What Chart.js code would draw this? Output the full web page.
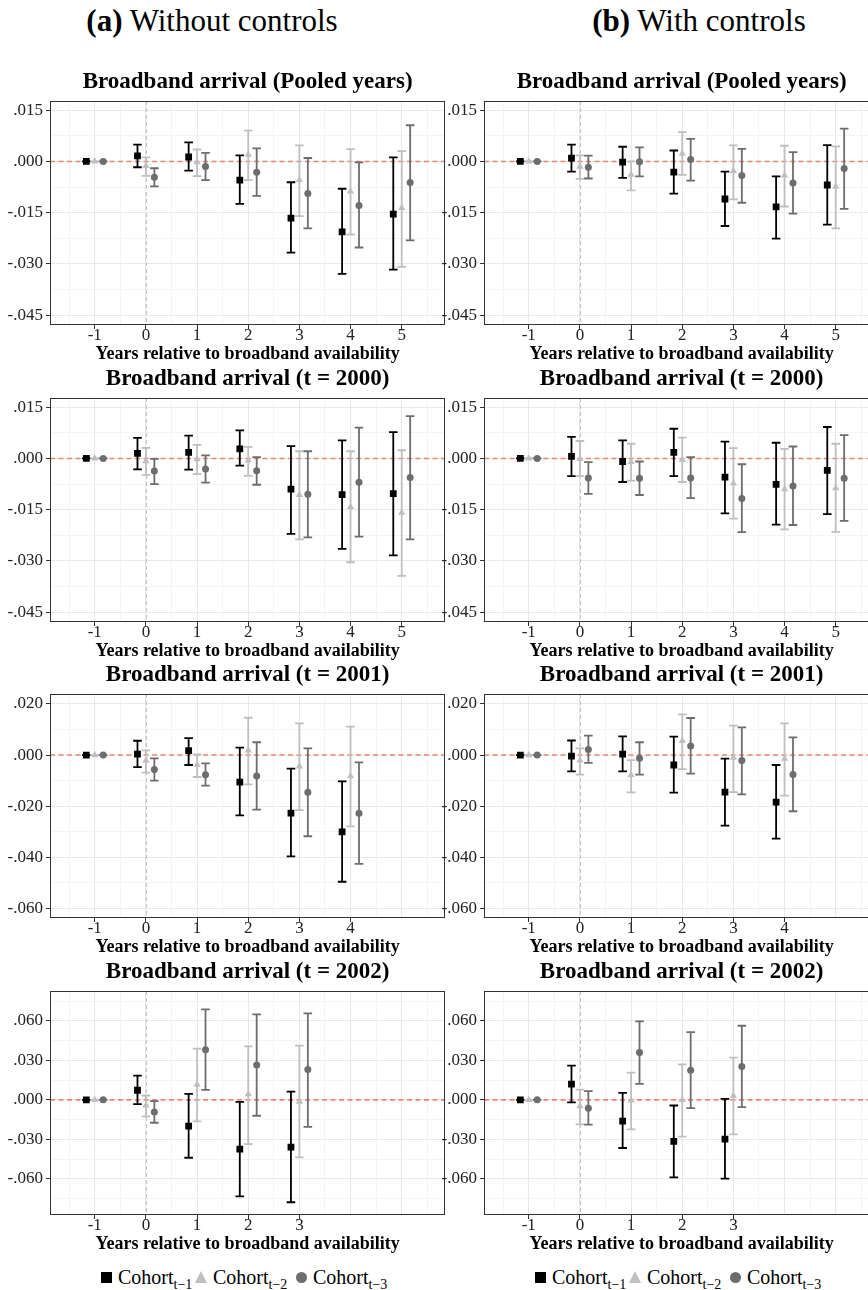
<!DOCTYPE html>
<html>
<head>
<meta charset="utf-8">
<script src="https://cdn.jsdelivr.net/npm/chart.js@4.4.0/dist/chart.umd.min.js"></script>
<style>
  body { margin: 0; width: 868px; height: 1290px; overflow: hidden; background: #fff; position: relative;
         font-family: 'Liberation Serif', 'Times New Roman', serif; color: #000; }
  .panel { position: absolute; }
  .hdr { position: absolute; top: 2px; width: 420px; text-align: center; font-size: 31px; line-height: 38px; }
  .leg { position: absolute; top: 1265px; height: 24px; font-size: 20px; line-height: 24px; }
  .leg span.txt { position: absolute; top: 0; white-space: nowrap; }
  .leg sub { font-size: 14px; vertical-align: -5px; line-height: 0; }
  .mk { position: absolute; }
</style>
</head>
<body>
<div class="hdr" style="left:2px"><b>(a)</b> Without controls</div>
<div class="hdr" style="left:489px"><b>(b)</b> With controls</div>

<script>
// Eventos relativos a la llegada de banda ancha
const YEARS_FULL = [-1, 0, 1, 2, 3, 4, 5];
const YEARS_2001 = [-1, 0, 1, 2, 3, 4];
const YEARS_2002 = [-1, 0, 1, 2, 3];
const COHORTS = ['t\u22121', 't\u22122', 't\u22123'];

// cada punto: [estimación, IC inferior, IC superior]
const POOLED_A_T1 = [[0,0,0],[0.0016,-0.0017,0.0049],[0.0013,-0.0027,0.0056],[-0.0055,-0.0124,0.0018],[-0.0166,-0.0267,-0.0061],[-0.0206,-0.0329,-0.0080],[-0.0154,-0.0317,0.0012]];
const POOLED_A_T2 = [[0,0,0],[-0.0013,-0.0042,0.0012],[-0.0002,-0.0043,0.0035],[0.0020,-0.0055,0.0090],[-0.0054,-0.0160,0.0047],[-0.0088,-0.0214,0.0036],[-0.0136,-0.0309,0.0030]];
const POOLED_A_T3 = [[0,0,0],[-0.0046,-0.0073,-0.0020],[-0.0015,-0.0055,0.0025],[-0.0032,-0.0101,0.0038],[-0.0094,-0.0196,0.0010],[-0.0129,-0.0252,-0.0003],[-0.0062,-0.0231,0.0106]];

const POOLED_B_T1 = [[0,0,0],[0.0010,-0.0030,0.0049],[-0.0002,-0.0048,0.0043],[-0.0031,-0.0094,0.0032],[-0.0110,-0.0189,-0.0030],[-0.0133,-0.0226,-0.0044],[-0.0069,-0.0185,0.0048]];
const POOLED_B_T2 = [[0,0,0],[-0.0015,-0.0051,0.0018],[-0.0039,-0.0085,0.0000],[0.0023,-0.0039,0.0086],[-0.0028,-0.0111,0.0047],[-0.0041,-0.0132,0.0046],[-0.0074,-0.0196,0.0044]];
const POOLED_B_T3 = [[0,0,0],[-0.0017,-0.0050,0.0017],[-0.0001,-0.0044,0.0041],[0.0006,-0.0056,0.0066],[-0.0041,-0.0121,0.0037],[-0.0063,-0.0153,0.0027],[-0.0021,-0.0139,0.0096]];

const Y2000_A_T1 = [[0,0,0],[0.0015,-0.0032,0.0060],[0.0018,-0.0033,0.0067],[0.0028,-0.0021,0.0082],[-0.0090,-0.0221,0.0036],[-0.0106,-0.0265,0.0053],[-0.0103,-0.0284,0.0077]];
const Y2000_A_T2 = [[0,0,0],[-0.0008,-0.0048,0.0031],[-0.0002,-0.0046,0.0040],[-0.0006,-0.0051,0.0034],[-0.0107,-0.0237,0.0021],[-0.0142,-0.0304,0.0021],[-0.0159,-0.0344,0.0024]];
const Y2000_A_T3 = [[0,0,0],[-0.0037,-0.0075,-0.0001],[-0.0031,-0.0071,0.0009],[-0.0036,-0.0077,0.0004],[-0.0105,-0.0231,0.0021],[-0.0070,-0.0229,0.0090],[-0.0056,-0.0237,0.0124]];

const Y2000_B_T1 = [[0,0,0],[0.0006,-0.0052,0.0063],[-0.0009,-0.0069,0.0053],[0.0018,-0.0052,0.0087],[-0.0055,-0.0161,0.0049],[-0.0076,-0.0194,0.0046],[-0.0035,-0.0163,0.0092]];
const Y2000_B_T2 = [[0,0,0],[-0.0001,-0.0052,0.0051],[-0.0010,-0.0065,0.0043],[-0.0004,-0.0069,0.0061],[-0.0073,-0.0176,0.0030],[-0.0090,-0.0208,0.0028],[-0.0087,-0.0215,0.0043]];
const Y2000_B_T3 = [[0,0,0],[-0.0057,-0.0104,-0.0011],[-0.0058,-0.0107,-0.0009],[-0.0057,-0.0116,0.0004],[-0.0117,-0.0216,-0.0017],[-0.0081,-0.0195,0.0035],[-0.0058,-0.0183,0.0068]];

const Y2001_A_T1 = [[0,0,0],[0.0004,-0.0047,0.0056],[0.0017,-0.0039,0.0066],[-0.0106,-0.0236,0.0029],[-0.0227,-0.0397,-0.0053],[-0.0301,-0.0496,-0.0103]];
const Y2001_A_T2 = [[0,0,0],[-0.0022,-0.0069,0.0018],[-0.0039,-0.0086,0.0003],[0.0018,-0.0115,0.0146],[-0.0044,-0.0216,0.0124],[-0.0083,-0.0279,0.0111]];
const Y2001_A_T3 = [[0,0,0],[-0.0057,-0.0100,-0.0013],[-0.0077,-0.0120,-0.0033],[-0.0082,-0.0214,0.0050],[-0.0146,-0.0318,0.0026],[-0.0228,-0.0426,-0.0029]];

const Y2001_B_T1 = [[0,0,0],[-0.0004,-0.0064,0.0057],[0.0004,-0.0064,0.0073],[-0.0039,-0.0147,0.0072],[-0.0145,-0.0276,-0.0014],[-0.0184,-0.0327,-0.0039]];
const Y2001_B_T2 = [[0,0,0],[-0.0021,-0.0077,0.0026],[-0.0078,-0.0146,-0.0020],[0.0055,-0.0055,0.0159],[-0.0010,-0.0145,0.0115],[-0.0014,-0.0159,0.0124]];
const Y2001_B_T3 = [[0,0,0],[0.0022,-0.0031,0.0076],[-0.0013,-0.0077,0.0050],[0.0035,-0.0073,0.0145],[-0.0021,-0.0154,0.0108],[-0.0076,-0.0220,0.0069]];

const Y2002_A_T1 = [[0,0,0],[0.0073,-0.0033,0.0184],[-0.0200,-0.0440,0.0045],[-0.0374,-0.0733,-0.0015],[-0.0359,-0.0778,0.0063]];
const Y2002_A_T2 = [[0,0,0],[-0.0043,-0.0126,0.0033],[0.0116,-0.0164,0.0389],[0.0043,-0.0336,0.0407],[-0.0013,-0.0437,0.0412]];
const Y2002_A_T3 = [[0,0,0],[-0.0093,-0.0174,-0.0010],[0.0381,0.0076,0.0687],[0.0265,-0.0121,0.0649],[0.0230,-0.0205,0.0657]];

const Y2002_B_T1 = [[0,0,0],[0.0119,-0.0020,0.0260],[-0.0162,-0.0366,0.0053],[-0.0316,-0.0589,-0.0043],[-0.0298,-0.0599,0.0008]];
const Y2002_B_T2 = [[0,0,0],[-0.0048,-0.0187,0.0078],[-0.0005,-0.0225,0.0207],[0.0000,-0.0280,0.0270],[0.0030,-0.0263,0.0321]];
const Y2002_B_T3 = [[0,0,0],[-0.0063,-0.0189,0.0066],[0.0359,0.0121,0.0596],[0.0225,-0.0063,0.0515],[0.0253,-0.0056,0.0563]];

// ejes
const Y_TICKS_015 = [-0.045, -0.030, -0.015, 0, 0.015];
const Y_TICKS_020 = [-0.060, -0.040, -0.020, 0, 0.020];
const Y_TICKS_030 = [-0.060, -0.030, 0, 0.030, 0.060];
const Y_RANGE_015 = [-0.0479, 0.0177];
const Y_RANGE_020 = [-0.0638, 0.0239];
const Y_RANGE_030 = [-0.0875, 0.0827];
const X_RANGE = [-1.875, 5.85];

// estilo
const COLORS = ['#000000', '#bfbfbf', '#6d6d6d'];
const SHAPES = ['rect', 'triangle', 'circle'];
const RADII = [4.8, 4.2, 3.5];
const DODGE = [-0.165, 0, 0.165];
const CAP = 4.3;
const FONT = "'Liberation Serif', 'Times New Roman', serif";
const COL_LEFT = [0, 434];
const ROW_TOPS = [101, 398, 694, 991];
const PLOT_H = 224;

const PANELS = [
  { row: 0, col: 0, title: 'Broadband arrival (Pooled years)', years: YEARS_FULL, series: [POOLED_A_T1, POOLED_A_T2, POOLED_A_T3], ticks: Y_TICKS_015, range: Y_RANGE_015 },
  { row: 0, col: 1, title: 'Broadband arrival (Pooled years)', years: YEARS_FULL, series: [POOLED_B_T1, POOLED_B_T2, POOLED_B_T3], ticks: Y_TICKS_015, range: Y_RANGE_015 },
  { row: 1, col: 0, title: 'Broadband arrival (t = 2000)', years: YEARS_FULL, series: [Y2000_A_T1, Y2000_A_T2, Y2000_A_T3], ticks: Y_TICKS_015, range: Y_RANGE_015 },
  { row: 1, col: 1, title: 'Broadband arrival (t = 2000)', years: YEARS_FULL, series: [Y2000_B_T1, Y2000_B_T2, Y2000_B_T3], ticks: Y_TICKS_015, range: Y_RANGE_015 },
  { row: 2, col: 0, title: 'Broadband arrival (t = 2001)', years: YEARS_2001, series: [Y2001_A_T1, Y2001_A_T2, Y2001_A_T3], ticks: Y_TICKS_020, range: Y_RANGE_020 },
  { row: 2, col: 1, title: 'Broadband arrival (t = 2001)', years: YEARS_2001, series: [Y2001_B_T1, Y2001_B_T2, Y2001_B_T3], ticks: Y_TICKS_020, range: Y_RANGE_020 },
  { row: 3, col: 0, title: 'Broadband arrival (t = 2002)', years: YEARS_2002, series: [Y2002_A_T1, Y2002_A_T2, Y2002_A_T3], ticks: Y_TICKS_030, range: Y_RANGE_030 },
  { row: 3, col: 1, title: 'Broadband arrival (t = 2002)', years: YEARS_2002, series: [Y2002_B_T1, Y2002_B_T2, Y2002_B_T3], ticks: Y_TICKS_030, range: Y_RANGE_030 }
];

const round6 = v => Math.round(v * 1e6) / 1e6;
const isMultiple = (v, step) => Math.abs(v / step - Math.round(v / step)) < 1e-6;

function fmtY(v) {
  const s = Math.abs(v).toFixed(3).replace(/^0/, '');
  return (v < -1e-9 ? '-' : '') + s;
}

// ticks mayores + menores (mitades) dentro del rango
function yTickValues(major, range) {
  const step = major[1] - major[0];
  const out = [];
  for (let k = -2; k <= major.length * 2 + 2; k++) {
    const v = round6(major[0] + k * step / 2);
    if (v >= range[0] && v <= range[1]) out.push(v);
  }
  return out;
}

// Referencias, barras de error y borde del panel
const errorBars = {
  id: 'errorBars',
  beforeDatasetsDraw(chart) {
    const { ctx, chartArea: a, scales: { x, y } } = chart;
    ctx.save();
    const x0 = Math.round(x.getPixelForValue(0)) + 0.5;
    ctx.strokeStyle = '#c4c4c4'; ctx.lineWidth = 1.1; ctx.setLineDash([4, 3]);
    ctx.beginPath(); ctx.moveTo(x0, a.top); ctx.lineTo(x0, a.bottom); ctx.stroke();
    const y0 = y.getPixelForValue(0);
    ctx.strokeStyle = '#ef8471'; ctx.lineWidth = 1.6; ctx.setLineDash([5, 3.5]);
    ctx.beginPath(); ctx.moveTo(a.left, y0); ctx.lineTo(a.right, y0); ctx.stroke();
    ctx.setLineDash([]);
    ctx.lineWidth = 1.8;
    chart.data.datasets.forEach(ds => {
      ctx.strokeStyle = ds.backgroundColor;
      ds.data.forEach(p => {
        const px = x.getPixelForValue(p.x);
        const top = y.getPixelForValue(p.hi), bot = y.getPixelForValue(p.lo);
        ctx.beginPath();
        ctx.moveTo(px, top); ctx.lineTo(px, bot);
        ctx.moveTo(px - CAP, top); ctx.lineTo(px + CAP, top);
        ctx.moveTo(px - CAP, bot); ctx.lineTo(px + CAP, bot);
        ctx.stroke();
      });
    });
    ctx.restore();
  },
  afterDraw(chart) {
    const { ctx, chartArea: a } = chart;
    ctx.save();
    ctx.strokeStyle = '#333333'; ctx.lineWidth = 1;
    ctx.strokeRect(Math.round(a.left) + 0.5, Math.round(a.top) + 0.5, Math.round(a.right - a.left) - 1, Math.round(a.bottom - a.top) - 1);
    ctx.restore();
  }
};

function makePanel(p) {
  const wrap = document.createElement('div');
  wrap.className = 'panel';
  wrap.style.left = COL_LEFT[p.col] + 'px';
  wrap.style.top = (ROW_TOPS[p.row] - 40) + 'px';
  const canvas = document.createElement('canvas');
  canvas.width = 450; canvas.height = 40 + PLOT_H + 40;
  wrap.appendChild(canvas);
  document.body.appendChild(wrap);

  const yStep = p.ticks[1] - p.ticks[0];
  const yVals = yTickValues(p.ticks, p.range);
  const xMaxLabel = p.years[p.years.length - 1];
  const xVals = [];
  for (let v = -1.5; v <= 5.5; v += 0.5) xVals.push(v);

  const datasets = p.series.map((s, i) => ({
    label: 'Cohort ' + COHORTS[i],
    data: s.map((d, j) => ({ x: p.years[j] + DODGE[i], y: d[0], lo: d[1], hi: d[2] })),
    pointStyle: SHAPES[i],
    pointRadius: RADII[i],
    pointBorderWidth: 0,
    backgroundColor: COLORS[i],
    borderColor: COLORS[i],
    showLine: false
  }));

  new Chart(canvas, {
    type: 'scatter',
    data: { datasets },
    plugins: [errorBars],
    options: {
      responsive: false,
      animation: false,
      events: [],
      layout: { padding: 0 },
      plugins: {
        legend: { display: false },
        tooltip: { enabled: false },
        title: {
          display: true, text: p.title, fullSize: false, color: '#000',
          font: { family: FONT, size: 23, weight: 'bold', lineHeight: 1.2 },
          padding: { top: 7.2, bottom: 5.2 }
        }
      },
      scales: {
        x: {
          type: 'linear', min: X_RANGE[0], max: X_RANGE[1],
          afterBuildTicks: sc => { sc.ticks = xVals.map(v => ({ value: v })); },
          afterFit: sc => { sc.height = 40; },
          border: { display: false },
          grid: {
            color: c => (c.tick && Number.isInteger(c.tick.value)) ? '#e9e9e9' : '#f4f4f4',
            tickColor: c => (c.tick && Number.isInteger(c.tick.value) && c.tick.value <= xMaxLabel) ? '#333' : 'rgba(0,0,0,0)',
            lineWidth: 1, tickLength: 4, tickWidth: 1
          },
          ticks: {
            autoSkip: false, maxRotation: 0, padding: -2, color: '#222',
            font: { family: FONT, size: 17, lineHeight: 1 },
            callback: v => (Number.isInteger(v) && v <= xMaxLabel) ? String(v) : ''
          },
          title: {
            display: true, text: 'Years relative to broadband availability', color: '#000',
            font: { family: FONT, size: 18, weight: 'bold', lineHeight: 1.2 },
            padding: { top: 0, bottom: 0 }
          }
        },
        y: {
          type: 'linear', min: p.range[0], max: p.range[1],
          afterBuildTicks: sc => { sc.ticks = yVals.map(v => ({ value: v })); },
          afterFit: sc => { sc.width = 50; },
          border: { display: false },
          grid: {
            color: c => (c.tick && isMultiple(c.tick.value, yStep)) ? '#e9e9e9' : '#f4f4f4',
            tickColor: c => (c.tick && isMultiple(c.tick.value, yStep)) ? '#333' : 'rgba(0,0,0,0)',
            lineWidth: 1, tickLength: 4, tickWidth: 1
          },
          ticks: {
            autoSkip: false, padding: 3, color: '#222',
            font: { family: FONT, size: 17, lineHeight: 1.2 },
            callback: v => isMultiple(v, yStep) ? fmtY(v) : ''
          }
        }
      }
    }
  });
}

PANELS.forEach(makePanel);

// Leyenda (HTML para poder usar subíndices)
function makeLegend(offset) {
  const leg = document.createElement('div');
  leg.className = 'leg';
  leg.style.left = offset + 'px';
  const mkX = [106, 201, 301], txtX = [118, 213, 313];
  COHORTS.forEach((c, i) => {
    const mk = document.createElement('div');
    mk.className = 'mk';
    if (i === 0) {
      Object.assign(mk.style, { left: (mkX[i] - 5) + 'px', top: '7px', width: '11px', height: '11px', background: COLORS[0] });
    } else if (i === 1) {
      Object.assign(mk.style, { left: (mkX[i] - 6) + 'px', top: '6px', width: 0, height: 0,
        borderLeft: '6.5px solid transparent', borderRight: '6.5px solid transparent', borderBottom: '12px solid ' + COLORS[1] });
    } else {
      Object.assign(mk.style, { left: (mkX[i] - 5) + 'px', top: '7px', width: '11px', height: '11px', borderRadius: '50%', background: COLORS[2] });
    }
    leg.appendChild(mk);
    const t = document.createElement('span');
    t.className = 'txt';
    t.style.left = txtX[i] + 'px';
    t.innerHTML = 'Cohort<sub>' + c + '</sub>';
    leg.appendChild(t);
  });
  document.body.appendChild(leg);
}
COL_LEFT.forEach(makeLegend);
</script>
</body>
</html>
